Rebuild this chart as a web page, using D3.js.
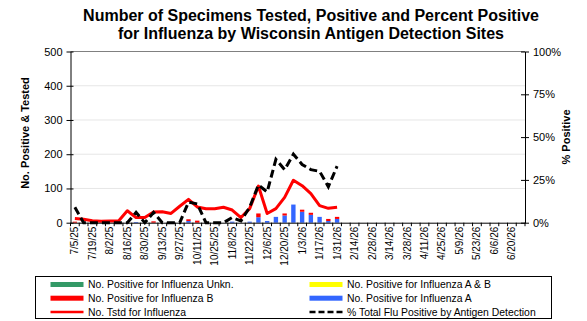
<!DOCTYPE html>
<html><head><meta charset="utf-8">
<script src="https://cdn.jsdelivr.net/npm/d3@7"></script>
<style>body{margin:0;background:#fff}svg{display:block;font-family:Arial,"Liberation Sans",sans-serif}</style>
</head><body><svg id="c" width="587" height="321"></svg>
<script>
const weeks = ["7/5/25","7/12/25","7/19/25","7/26/25","8/2/25","8/9/25","8/16/25","8/23/25","8/30/25","9/6/25","9/13/25","9/20/25","9/27/25","10/4/25","10/11/25","10/18/25","10/25/25","11/1/25","11/8/25","11/15/25","11/22/25","11/29/25","12/6/25","12/13/25","12/20/25","12/27/25","1/3/26","1/10/26","1/17/26","1/24/26","1/31/26","2/7/26","2/14/26","2/21/26","2/28/26","3/7/26","3/14/26","3/21/26","3/28/26","4/4/26","4/11/26","4/18/26","4/25/26","5/2/26","5/9/26","5/16/26","5/23/26","5/30/26","6/6/26","6/13/26","6/20/26","6/27/26"];
const tickLabels = ["7/5/25","7/19/25","8/2/25","8/16/25","8/30/25","9/13/25","9/27/25","10/11/25","10/25/25","11/8/25","11/22/25","12/6/25","12/20/25","1/3/26","1/17/26","1/31/26","2/14/26","2/28/26","3/14/26","3/28/26","4/11/26","4/25/26","5/9/26","5/23/26","6/6/26","6/20/26"];
const yTicks = [0,100,200,300,400,500];
const pctTicks = [0,25,50,75,100];
// reported weeks (first 31), remaining weeks have no data yet
const tested = [12,10,6,4,5,5,35,15,15,31,32,27,48,68,46,41,41,45,37,15,41,107,27,41,74,124,108,85,50,42,45];
const posA   = [0,0,0,0,0,0,0,2,0,0,0,0,0,5,0,0,0,0,3,0,3,16,5,17,21,53,32,23,17,5,11];
const posB   = [3,0,0,0,0,0,0,0,0,4,0,0,0,5,6,0,0,0,0,0,0,11,0,0,6,0,6,6,0,6,6];
const posAB  = [0,0,0,0,0,0,0,0,0,0,0,0,0,0,0,0,0,0,0,0,0,0,0,0,0,0,0,0,0,0,0];
const posUnk = [0,0,0,0,0,0,0,0,0,0,0,0,0,0,0,0,0,0,0,0,0,0,0,0,0,0,0,0,0,0,0];
const pctPos = [9,0,0,0,0,0,0,6,0,6,0,0,0,12,11,0,0,0,3,1,9,22,18,37,31,40,34,31,30,21,33];

const C = {A:"#3366ff", B:"#ff0000", AB:"#ffff00", Unk:"#339966", line:"#ff0000"};
const svg = d3.select("#c");
const L = 70.5, R = 525, T = 51.5, B0 = 222.7;
const x = d3.scaleBand().domain(weeks).range([L, R]).paddingInner(0.5).paddingOuter(0.25);
const xb = d3.scaleBand().domain(weeks).range([L, R]);
const y = d3.scaleLinear().domain([0, 500]).range([B0, T]);
const yp = d3.scaleLinear().domain([0, 100]).range([B0, T]);

// gridlines
svg.append("g").selectAll("line").data(yTicks.slice(1, -1)).join("line")
  .attr("x1", L).attr("x2", R).attr("y1", d => y(d)).attr("y2", d => y(d))
  .attr("stroke", "#e6e6e6").attr("stroke-width", 1);
svg.append("line").attr("x1", L).attr("x2", R).attr("y1", y(500)).attr("y2", y(500))
  .attr("stroke", "#808080");

// stacked bars
const rows = tested.map((t, i) => ({wk: weeks[i], A: posA[i], B: posB[i], AB: posAB[i], Unk: posUnk[i]}));
const stack = d3.stack().keys(["A", "B", "AB", "Unk"])(rows);
svg.append("g").selectAll("g").data(stack).join("g").attr("fill", s => C[s.key])
  .selectAll("rect").data(s => s).join("rect")
  .attr("x", d => x(d.data.wk)).attr("width", x.bandwidth())
  .attr("y", d => y(d[1])).attr("height", d => y(d[0]) - y(d[1]));

// tested line
svg.append("path").datum(tested)
  .attr("fill", "none").attr("stroke", C.line).attr("stroke-width", 3).attr("stroke-linejoin", "round")
  .attr("d", d3.line().x((d, i) => xb(weeks[i]) + xb.bandwidth() / 2).y(d => y(d)));
// percent line
svg.append("path").datum(pctPos)
  .attr("fill", "none").attr("stroke", "#000").attr("stroke-width", 3).attr("stroke-dasharray", "8,4")
  .attr("d", d3.line().x((d, i) => xb(weeks[i]) + xb.bandwidth() / 2).y(d => yp(d)));

// left axis
const gl = svg.append("g").attr("transform", `translate(${L},0)`)
  .call(d3.axisLeft(y).tickValues(yTicks).tickSizeOuter(0).tickSizeInner(4).tickPadding(4));
gl.select(".domain").attr("stroke", "#000");
gl.selectAll(".tick line").attr("x1", 3).attr("stroke", "#000");
gl.selectAll("text").attr("font-size", 11).attr("fill", "#000").attr("font-family", null);
// right axis
const gr = svg.append("g").attr("transform", `translate(${R},0)`)
  .call(d3.axisRight(yp).tickValues(pctTicks).tickFormat(d => d + "%").tickSizeOuter(0).tickSizeInner(4).tickPadding(4));
gr.select(".domain").attr("stroke", "#000");
gr.selectAll(".tick line").attr("x1", -4).attr("stroke", "#000");
gr.selectAll("text").attr("font-size", 11).attr("fill", "#000").attr("font-family", null);

// bottom axis
const gb = svg.append("g").attr("transform", `translate(0,${B0})`)
  .call(d3.axisBottom(xb).tickValues(tickLabels).tickSize(0).tickPadding(4));
gb.select(".domain").attr("stroke", "#000");
gb.selectAll("text").attr("font-size", 10).attr("fill", "#000").attr("font-family", null)
  .attr("transform", "rotate(-90)").attr("text-anchor", "end")
  .attr("x", -4).attr("y", 0).attr("dy", "0.35em");
const bounds = weeks.map(w => xb(w)).concat([R]);
svg.append("g").selectAll("line").data(bounds).join("line")
  .attr("x1", d => d).attr("x2", d => d).attr("y1", B0).attr("y2", B0 + 3.5)
  .attr("stroke", "#000");

// titles
svg.append("text").attr("x", 311).attr("y", 21).attr("text-anchor", "middle")
  .attr("font-size", 16).attr("font-weight", "bold").text("Number of Specimens Tested, Positive and Percent Positive");
svg.append("text").attr("x", 311).attr("y", 39).attr("text-anchor", "middle")
  .attr("font-size", 16).attr("font-weight", "bold").text("for Influenza by Wisconsin Antigen Detection Sites");
svg.append("text").attr("transform", "translate(29,133) rotate(-90)").attr("text-anchor", "middle")
  .attr("font-size", 11).attr("font-weight", "bold").text("No. Positive & Tested");
svg.append("text").attr("transform", "translate(570,137) rotate(-90)").attr("text-anchor", "middle")
  .attr("font-size", 11).attr("font-weight", "bold").text("% Positive");

// legend
svg.append("rect").attr("x", 35.5).attr("y", 276.5).attr("width", 516).attr("height", 42)
  .attr("fill", "#fff").attr("stroke", "#000");
const legend = [
  {label: "No. Positive for Influenza Unkn.", col: 0, row: 0, type: "bar", color: C.Unk},
  {label: "No. Positive for Influenza A & B", col: 1, row: 0, type: "bar", color: C.AB},
  {label: "No. Positive for Influenza B", col: 0, row: 1, type: "bar", color: C.B},
  {label: "No. Positive for Influenza A", col: 1, row: 1, type: "bar", color: C.A},
  {label: "No. Tstd for Influenza", col: 0, row: 2, type: "line", color: C.line},
  {label: "% Total Flu Positive by Antigen Detection", col: 1, row: 2, type: "dash", color: "#000"}
];
const lg = svg.append("g").selectAll("g").data(legend).join("g")
  .attr("transform", d => `translate(${d.col ? 309.5 : 50.5},${284.5 + d.row * 13.7})`);
lg.each(function (d) {
  const g = d3.select(this);
  if (d.type === "bar") g.append("rect").attr("x", 0).attr("y", -2.5).attr("width", 33).attr("height", 5).attr("fill", d.color);
  else g.append("line").attr("x1", 0).attr("x2", 33).attr("y1", 0).attr("y2", 0)
    .attr("stroke", d.color).attr("stroke-width", 2.5).attr("stroke-dasharray", d.type === "dash" ? "6,3" : null);
  g.append("text").attr("x", 37.5).attr("y", 0).attr("dy", "0.35em").attr("font-size", 10.4).text(d.label);
});
</script></body></html>
